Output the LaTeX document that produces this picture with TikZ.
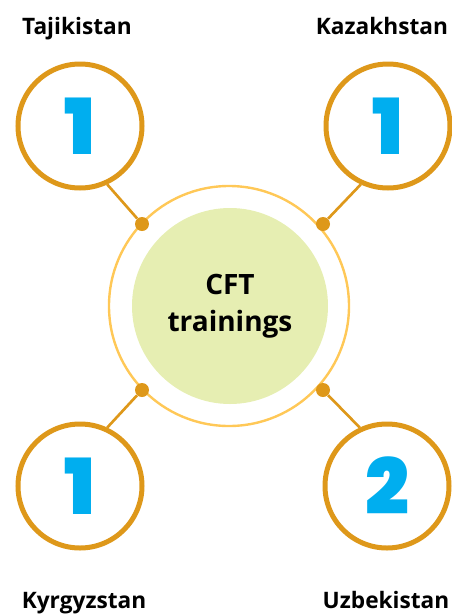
\documentclass[tikz,border=0pt]{standalone}
\usepackage{fontspec}
\setmainfont{Open Sans}
\newfontfamily\digitfont{Poppins}[BoldFont={Poppins Black}]
\usepackage{tikz}
\usetikzlibrary{calc}
\usetikzlibrary{positioning}
\definecolor{gold}{HTML}{DE981A}
\definecolor{ringgold}{HTML}{FFC857}
\definecolor{palegreen}{HTML}{E6EEB2}
\definecolor{numcyan}{HTML}{00AEEF}
\begin{document}
\begin{tikzpicture}[x=0.75pt, y=-0.75pt]
            \useasboundingbox (0,0) rectangle (451,615);

            \node (ring) at (229,306) [circle, draw=ringgold, line width=1.8pt, minimum size=180pt] {};
            \node (hub) at (230,306) [circle, fill=palegreen, minimum size=147pt, align=center, font=\fontsize{21}{27.5}\selectfont\bfseries] {CFT\\trainings};

            \begin{scope}[every node/.style={circle, draw=gold, line width=3.75pt, fill=white, minimum size=93pt, inner sep=0pt, text=numcyan, font=\digitfont\fontsize{58}{58}\selectfont\bfseries}]
                \node (tj) at (80,126) {1};
                \node (kz) at (388,126) {1};
                \node (kg) at (80,486) {1};
                \node (uz) at (387,486) {2};
            \end{scope}

            \begin{scope}[every node/.style={circle, fill=gold, minimum size=10.5pt, inner sep=0pt}]
                \node (dtj) at (142,224) {};
                \node (dkz) at (323,224) {};
                \node (dkg) at (142,390) {};
                \node (duz) at (323,390) {};
            \end{scope}

            \begin{scope}[every edge/.style={draw=gold, line width=2pt}]
                \path [-] (dtj) edge (tj.-65);
                \path [-] (dkz) edge (kz.-115);
                \path [-] (dkg) edge (kg.65);
                \path [-] (duz) edge (uz.115);
            \end{scope}

            \begin{scope}[every node/.style={font=\fontsize{17}{20}\selectfont\bfseries, anchor=base}]
                \node (ltj) at (77,34) {Tajikistan};
                \node (lkz) at (382,34) {Kazakhstan};
                \node (lkg) at (84,608) {Kyrgyzstan};
                \node (luz) at (386,608) {Uzbekistan};
            \end{scope}
        \end{tikzpicture}
\end{document}
